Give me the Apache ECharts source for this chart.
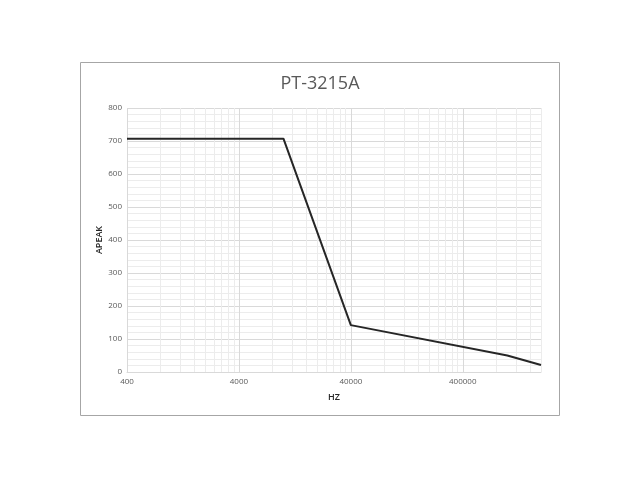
<!DOCTYPE html>
<html>
<head>
<meta charset="utf-8">
<script src="https://cdn.jsdelivr.net/npm/echarts@6/dist/echarts.min.js"></script>
<style>
  html, body { margin: 0; padding: 0; background: #fff; }
  #chart { width: 640px; height: 480px; }
</style>
</head>
<body>
<div id="chart"></div>
<script>
var hz = [400, 10000, 40000, 1000000, 2000000];
var apeak = [707, 707, 142, 50, 21];
var hzLabels = [400, 4000, 40000, 400000];
var hzMinor = [
  800, 1200, 1600, 2000, 2400, 2800, 3200, 3600,
  8000, 12000, 16000, 20000, 24000, 28000, 32000, 36000,
  80000, 120000, 160000, 200000, 240000, 280000, 320000, 360000,
  800000, 1200000, 1600000, 2000000
];

var chart = echarts.init(document.getElementById('chart'));

var option = {
  animation: false,
  backgroundColor: '#fff',
  title: {
    text: 'PT-3215A',
    left: 'center',
    top: 70,
    textStyle: {
      fontFamily: 'Open Sans',
      fontSize: 18,
      fontWeight: 'normal',
      color: '#595959'
    }
  },
  graphic: [{
    type: 'rect',
    shape: { x: 80.5, y: 62.5, width: 479, height: 353 },
    style: { fill: 'none', stroke: '#a6a6a6', lineWidth: 1 },
    silent: true
  }],
  grid: { left: 127, right: 99, top: 108, bottom: 108 },
  xAxis: [
    {
      // minor grid lines
      type: 'log',
      logBase: 10,
      min: 400,
      max: 2000000,
      axisLine: { show: false },
      axisLabel: { show: false },
      axisTick: { show: false, customValues: hzMinor },
      splitLine: { show: true, lineStyle: { color: '#ececec', width: 1 } }
    },
    {
      type: 'log',
      logBase: 10,
      min: 400,
      max: 2000000,
      position: 'bottom',
      name: 'HZ',
      nameLocation: 'middle',
      nameGap: 21,
      nameTextStyle: { fontFamily: 'Open Sans', fontSize: 9, fontWeight: 600, color: '#262626' },
      axisLine: { show: true, lineStyle: { color: '#d9d9d9' } },
      axisTick: { show: false, customValues: hzLabels },
      axisLabel: {
        customValues: hzLabels,
        formatter: function (v) { return String(v); },
        fontFamily: 'Open Sans',
        fontSize: 8,
        color: '#595959',
        margin: 6
      },
      splitLine: { show: true, lineStyle: { color: '#d9d9d9', width: 1 } }
    }
  ],
  yAxis: {
    type: 'value',
    min: 0,
    max: 800,
    interval: 100,
    name: 'APEAK',
    nameLocation: 'middle',
    nameGap: 23,
    nameMoveOverlap: false,
    nameTextStyle: { fontFamily: 'Open Sans', fontSize: 9, fontWeight: 600, color: '#262626' },
    axisLine: { show: false },
    axisTick: { show: false },
    axisLabel: { fontFamily: 'Open Sans', fontSize: 8, color: '#595959', margin: 5 },
    minorTick: { show: false, splitNumber: 5 },
    splitLine: { show: true, lineStyle: { color: '#d9d9d9', width: 1 } },
    minorSplitLine: { show: true, lineStyle: { color: '#ececec', width: 1 } }
  },
  series: [{
    type: 'line',
    xAxisIndex: 1,
    data: hz.map(function (v, i) { return [v, apeak[i]]; }),
    symbol: 'none',
    lineStyle: { color: '#262626', width: 2 }
  }]
};

chart.setOption(option);
</script>
</body>
</html>
